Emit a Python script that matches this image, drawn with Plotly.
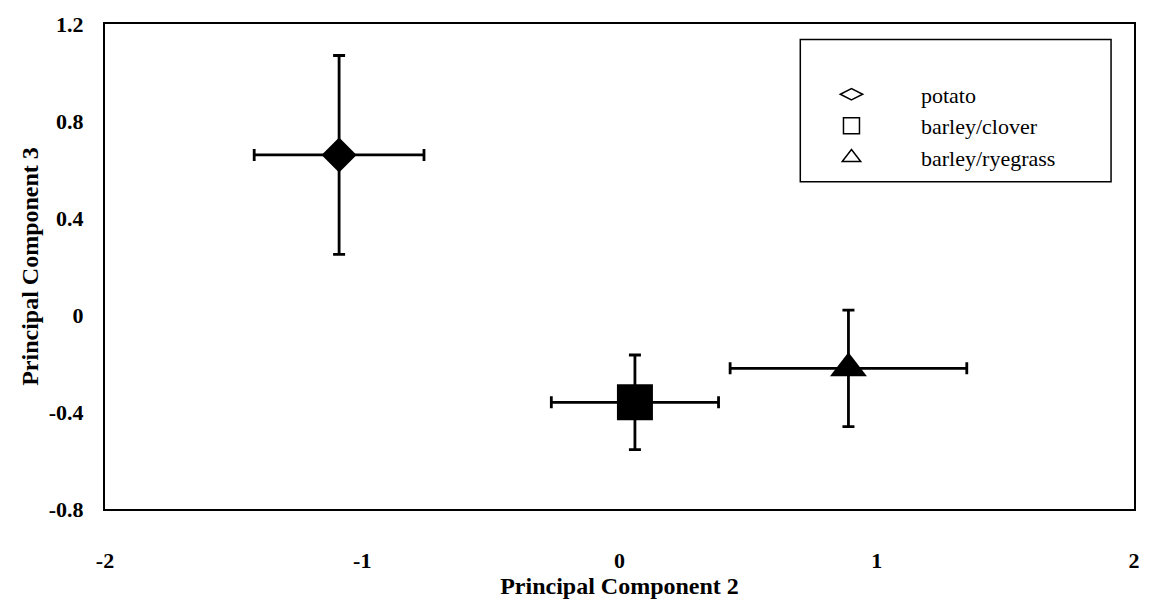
import plotly.graph_objects as go

# Group means on PC2 / PC3 with their error extents
groups = ["potato", "barley/clover", "barley/ryegrass"]
pc2 = [-1.09, 0.06, 0.89]
pc3 = [0.66, -0.36, -0.22]
pc2_err = [0.33, 0.325, 0.46]
pc3_err = [0.41, 0.195, 0.24]

filled_symbols = ["diamond", "square", "triangle-up"]
filled_sizes = [27, 36, 32]
open_symbols = ["diamond-wide-open", "square-open", "triangle-up-open"]
open_sizes = [19, 17, 21]

x_ticks = [-2, -1, 0, 1, 2]
y_ticks = [-0.8, -0.4, 0, 0.4, 0.8, 1.2]

SERIF = "Liberation Serif"

fig = go.Figure()

for i, name in enumerate(groups):
    fig.add_trace(go.Scatter(
        x=[pc2[i]], y=[pc3[i]],
        mode="markers",
        name=name,
        showlegend=False,
        marker=dict(symbol=filled_symbols[i], size=filled_sizes[i], color="black",
                    line=dict(width=0)),
        error_x=dict(type="data", array=[pc2_err[i]], color="black",
                     thickness=2.8, width=6),
        error_y=dict(type="data", array=[pc3_err[i]], color="black",
                     thickness=2.8, width=6),
    ))

# Legend entries use open symbols
for i, name in enumerate(groups):
    fig.add_trace(go.Scatter(
        x=[None], y=[None],
        mode="markers",
        name="\u00a0" * 9 + name,
        marker=dict(symbol=open_symbols[i], size=open_sizes[i], color="black",
                    line=dict(width=1.5, color="black")),
    ))

# Frame around the legend
fig.add_shape(type="rect", xref="paper", yref="paper",
              x0=0.6757, x1=0.9777, y0=0.675, y1=0.968,
              line=dict(color="black", width=1.5), fillcolor="rgba(0,0,0,0)")

fig.update_layout(
    width=1152, height=602,
    margin=dict(l=105, r=14, t=22, b=84),
    paper_bgcolor="white", plot_bgcolor="white",
    font=dict(family=SERIF, color="black"),
    legend=dict(x=0.706, y=0.898, xanchor="left", yanchor="top",
                bgcolor="rgba(0,0,0,0)", borderwidth=0,
                font=dict(family=SERIF, size=22, color="black"),
                tracegroupgap=0),
    xaxis=dict(range=[-2, 2], tickvals=x_ticks, ticktext=[str(v) for v in x_ticks],
               showgrid=False, zeroline=False, showline=True, mirror=True,
               linecolor="black", linewidth=2,
               ticks="outside", ticklen=31, tickcolor="rgba(0,0,0,0)",
               tickfont=dict(family=SERIF, size=22, color="black", weight="bold"),
               title=dict(text="<b>Principal Component 2</b>", standoff=0,
                          font=dict(family=SERIF, size=24, color="black"))),
    yaxis=dict(range=[-0.8, 1.2], tickvals=y_ticks,
               ticktext=[("%g" % v) for v in y_ticks],
               showgrid=False, zeroline=False, showline=True, mirror=True,
               linecolor="black", linewidth=2,
               ticks="outside", ticklen=15, tickcolor="rgba(0,0,0,0)",
               tickfont=dict(family=SERIF, size=22, color="black", weight="bold"),
               title=dict(text="<b>Principal Component 3</b>", standoff=3,
                          font=dict(family=SERIF, size=24, color="black"))),
)

fig.write_html("out.html")
